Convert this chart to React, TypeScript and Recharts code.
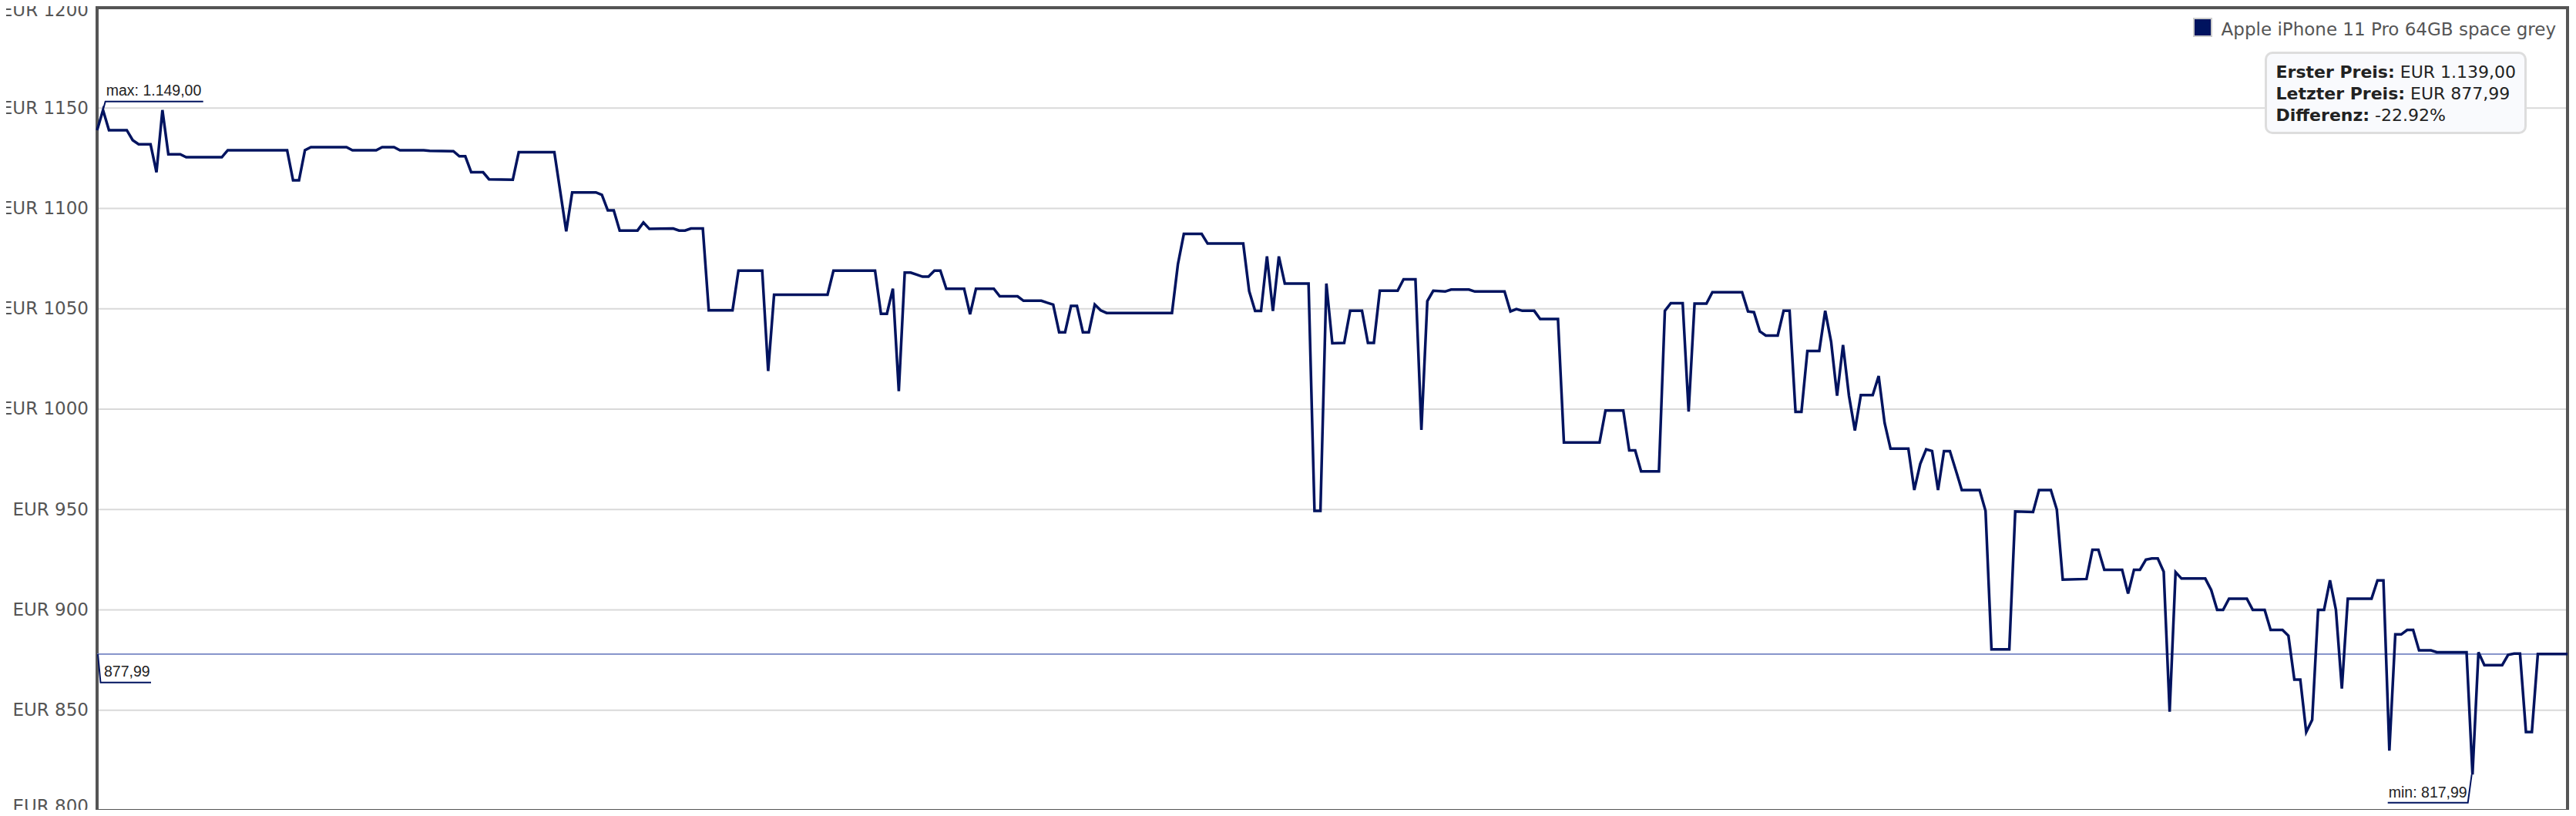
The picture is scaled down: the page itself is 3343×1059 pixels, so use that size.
import React from 'react';
import {
  LineChart,
  Line,
  XAxis,
  YAxis,
  CartesianGrid,
  ReferenceLine,
  ReferenceArea,
  ReferenceDot,
  Legend,
} from 'recharts';

// ---- data (day index, price in EUR) ----
const days = [
  0, 1, 2, 5, 6, 7, 9, 10, 11, 12, 14, 15, 21, 22, 32, 33, 34, 35, 36, 42, 43, 47, 48, 50, 51, 55, 56, 60, 61, 62,
  63, 65, 66, 70, 71, 77, 79, 80, 84, 85, 86, 87, 88, 91, 92, 93, 97, 98, 99, 100, 102, 103, 107, 108, 112, 113,
  114, 123, 124, 131, 132, 133, 134, 135, 136, 137, 138, 139, 140, 141, 142, 143, 146, 147, 148, 151, 152, 155,
  156, 159, 160, 161, 162, 163, 164, 165, 166, 167, 168, 169, 170, 181, 182, 183, 186, 187, 193, 194, 195, 196,
  197, 198, 199, 200, 204, 205, 206, 207, 208, 210, 211, 213, 214, 215, 216, 219, 220, 222, 223, 224, 225, 227,
  228, 231, 232, 237, 238, 239, 240, 242, 243, 246, 247, 253, 254, 257, 258, 259, 260, 263, 264, 265, 267, 268,
  269, 271, 272, 277, 278, 279, 280, 281, 283, 284, 285, 286, 287, 288, 290, 291, 292, 293, 294, 295, 296, 297,
  299, 300, 301, 302, 305, 306, 307, 308, 309, 310, 311, 312, 313, 314, 317, 318, 319, 322, 323, 326, 327, 329,
  330, 331, 335, 336, 337, 338, 341, 342, 343, 344, 345, 346, 347, 348, 349, 350, 351, 355, 356, 357, 358, 359,
  362, 363, 365, 366, 368, 369, 370, 371, 372, 373, 374, 375, 376, 377, 378, 379, 383, 384, 385, 386, 387, 388,
  389, 390, 391, 393, 394, 399, 400, 401, 402, 405, 406, 407, 408, 409, 410, 411, 416,
];

const prices = [
  1139, 1149, 1139, 1139, 1134, 1132, 1132, 1118, 1149, 1127, 1127, 1125.5, 1125.5, 1129, 1129, 1114, 1114, 1129,
  1130.5, 1130.5, 1129, 1129, 1130.5, 1130.5, 1129, 1129, 1128.7, 1128.5, 1126, 1126,
  1118, 1118, 1114.5, 1114.3, 1128, 1128, 1088.6, 1108, 1108, 1106.8, 1099, 1099, 1089, 1089, 1093, 1089.8, 1090,
  1089, 1089, 1090, 1090, 1049.2, 1049.2, 1069, 1069, 1019,
  1057, 1057, 1069, 1069, 1047.5, 1047.5, 1060, 1009, 1068, 1068, 1067, 1066, 1066, 1069, 1069, 1060, 1060, 1047.3,
  1060, 1060, 1056.2, 1056.2,
  1054, 1054, 1053, 1052.1, 1038.3, 1038.3, 1051.4, 1051.4, 1038.3, 1038.3, 1052.1, 1049.2, 1047.9, 1047.9, 1072.2,
  1087.3, 1087.3, 1082.5, 1082.5, 1058.8, 1048.9, 1048.9,
  1076.1, 1048.9, 1076.1, 1062.6, 1062.6, 949.3, 949.3, 1062.6, 1032.8, 1033, 1049, 1049, 1033, 1033, 1059, 1059,
  1064.7, 1064.7, 989.7, 1053.8, 1059, 1058.6,
  1059.6, 1059.6, 1058.6, 1058.6, 1048.7, 1049.9, 1049, 1049, 1044.9, 1044.9, 983.4, 983.4, 999.3, 999.3, 979.5,
  979.5, 969, 969, 1049, 1052.8, 1052.8, 998.8,
  1052.6, 1052.6, 1058.3, 1058.3, 1048.7, 1048.3, 1038.7, 1036.7, 1036.7, 1049, 1049, 998.7, 998.7, 1029, 1029,
  1049, 1033.5, 1006.7, 1032, 1006.7, 989.4, 1007,
  1007, 1016.5, 993.2, 980.3, 980.3, 959.7, 972.7, 980, 979.1, 959.7, 979.1, 979.1, 969.5, 959.7, 959.7, 949.3,
  880.3, 880.3, 949, 948.8, 959.7, 959.7,
  950, 915.1, 915.4, 929.9, 929.9, 920, 920, 908.1, 920, 920, 925, 925.6, 925.6, 919, 849.3, 918.8, 915.6, 915.6,
  909.9, 900, 900, 905.6,
  905.6, 900, 900, 890, 890, 887.1, 865.3, 865.3, 839.1, 845.2, 900, 900, 914.7, 900, 860.8, 905.6, 905.6, 914.7,
  914.7, 829.9, 887.8, 887.8,
  890, 890, 879.8, 879.8, 878.9, 878.9, 817.99, 878.9, 872.5, 872.5, 877.6, 878.2, 878.2, 839.2, 839.2, 877.99,
  877.99,
];

const yTicks = [800, 850, 900, 950, 1000, 1050, 1100, 1150, 1200];
const xGridTicks = [122, 304];
const seriesName = 'Apple iPhone 11 Pro 64GB space grey';
const currency = 'EUR';

// ---- derived ----
const data = days.map((d, i) => ({ day: d, price: prices[i] }));
const firstPrice = prices[0];
const lastPrice = prices[prices.length - 1];
const maxPrice = Math.max(...prices);
const minPrice = Math.min(...prices);
const maxDay = days[prices.indexOf(maxPrice)];
const minDay = days[prices.indexOf(minPrice)];
const firstDay = days[0];
const lastDay = days[days.length - 1];
const diffPct = ((lastPrice - firstPrice) / firstPrice) * 100;

const fmtDe = (v: number) => {
  const [i, d] = v.toFixed(2).split('.');
  return i.replace(/\B(?=(\d{3})+(?!\d))/g, '.') + ',' + d;
};

const NAVY = '#00135f';
const SANS = 'DejaVu Sans, Verdana, sans-serif';
const ARIAL = 'Liberation Sans, Arial, sans-serif';

const YTick = (props: any) => {
  const { x, y, payload } = props;
  const base = Math.min(Math.max(y + 7.3, 20.7), 1053.5);
  return (
    <text x={x} y={base} textAnchor="end" fill="#555" fontFamily={SANS} fontSize={23}>
      {`${currency} ${payload.value}`}
    </text>
  );
};

const MaxCallout = (props: any) => {
  const { cx, cy } = props;
  return (
    <g>
      <path d={`M${cx},${cy} L${cx + 3},${cy - 11} H${cx + 130}`} stroke={NAVY} strokeWidth={2} fill="none" />
      <text x={cx + 4} y={cy - 19} fontFamily={ARIAL} fontSize={19.5} fill="#222">
        {`max: ${fmtDe(maxPrice)}`}
      </text>
    </g>
  );
};

const LastCallout = (props: any) => {
  const { cx, cy } = props;
  return (
    <g>
      <path d={`M${cx + 1},${cy} L${cx + 4.5},${cy + 37} H${cx + 70}`} stroke={NAVY} strokeWidth={2} fill="none" />
      <text x={cx + 9} y={cy + 29.5} fontFamily={ARIAL} fontSize={19.5} fill="#222">
        {fmtDe(lastPrice)}
      </text>
    </g>
  );
};

const MinCallout = (props: any) => {
  const { cx, cy } = props;
  return (
    <g>
      <path d={`M${cx - 1},${cy} L${cx - 6},${cy + 36.6} H${cx - 110}`} stroke={NAVY} strokeWidth={2} fill="none" />
      <text x={cx - 7} y={cy + 30} textAnchor="end" fontFamily={ARIAL} fontSize={19.5} fill="#222">
        {`min: ${fmtDe(minPrice)}`}
      </text>
    </g>
  );
};

const LegendContent = () => (
  <div style={{ display: 'flex', alignItems: 'flex-start', whiteSpace: 'nowrap' }}>
    <span
      style={{
        display: 'inline-block',
        width: 21,
        height: 21,
        background: NAVY,
        border: '2.6px solid #cccccc',
        marginRight: 12,
      }}
    />
    <span style={{ fontFamily: SANS, fontSize: 23, color: '#555', marginTop: 2, lineHeight: 'normal' }}>
      {seriesName}
    </span>
  </div>
);

export default function App() {
  return (
    <div style={{ position: 'relative', width: 3343, height: 1059, margin: -8, background: '#fff' }}>
      <LineChart width={3343} height={1059} data={data} margin={{ top: 10, right: 11, bottom: 7, left: 0 }}>
        <CartesianGrid stroke="#d9d9d9" strokeWidth={2} />
        <XAxis
          dataKey="day"
          type="number"
          domain={[firstDay, lastDay]}
          ticks={xGridTicks}
          tick={false}
          tickLine={false}
          axisLine={false}
          height={0}
        />
        <YAxis
          type="number"
          domain={[yTicks[0], yTicks[yTicks.length - 1]]}
          ticks={yTicks}
          interval={0}
          width={126}
          axisLine={false}
          tickLine={false}
          tickSize={0}
          tickMargin={11}
          tick={<YTick />}
        />
        <ReferenceLine y={lastPrice} stroke="#7585c3" strokeWidth={1.6} />
        <Line
          type="linear"
          dataKey="price"
          name={seriesName}
          stroke={NAVY}
          strokeWidth={3.5}
          dot={false}
          activeDot={false}
          isAnimationActive={false}
        />
        <ReferenceArea
          x1={firstDay}
          x2={lastDay}
          y1={yTicks[0]}
          y2={yTicks[yTicks.length - 1]}
          fill="none"
          fillOpacity={0}
          stroke="#555"
          strokeWidth={4}
        />
        <ReferenceDot x={maxDay} y={maxPrice} shape={<MaxCallout />} />
        <ReferenceDot x={firstDay} y={lastPrice} shape={<LastCallout />} />
        <ReferenceDot x={minDay} y={minPrice} shape={<MinCallout />} />
        <Legend
          layout="horizontal"
          verticalAlign="middle"
          align="center"
          content={<LegendContent />}
          wrapperStyle={{ top: 22.7, right: 26, left: 'auto', bottom: 'auto', width: 'auto', height: 'auto' }}
        />
      </LineChart>
      <div
        style={{
          position: 'absolute',
          left: 2938.5,
          top: 66.7,
          width: 340.5,
          height: 107.3,
          boxSizing: 'border-box',
          border: '3px solid #dddddd',
          borderRadius: 10,
          background: '#f9fafd',
          padding: '10.4px 0 0 12px',
          fontFamily: SANS,
          fontSize: 22,
          lineHeight: '28px',
          color: '#222',
          whiteSpace: 'nowrap',
        }}
      >
        <div>
          <b>Erster Preis:</b> {currency} {fmtDe(firstPrice)}
        </div>
        <div>
          <b>Letzter Preis:</b> {currency} {fmtDe(lastPrice)}
        </div>
        <div>
          <b>Differenz:</b> {diffPct.toFixed(2)}%
        </div>
      </div>
    </div>
  );
}
